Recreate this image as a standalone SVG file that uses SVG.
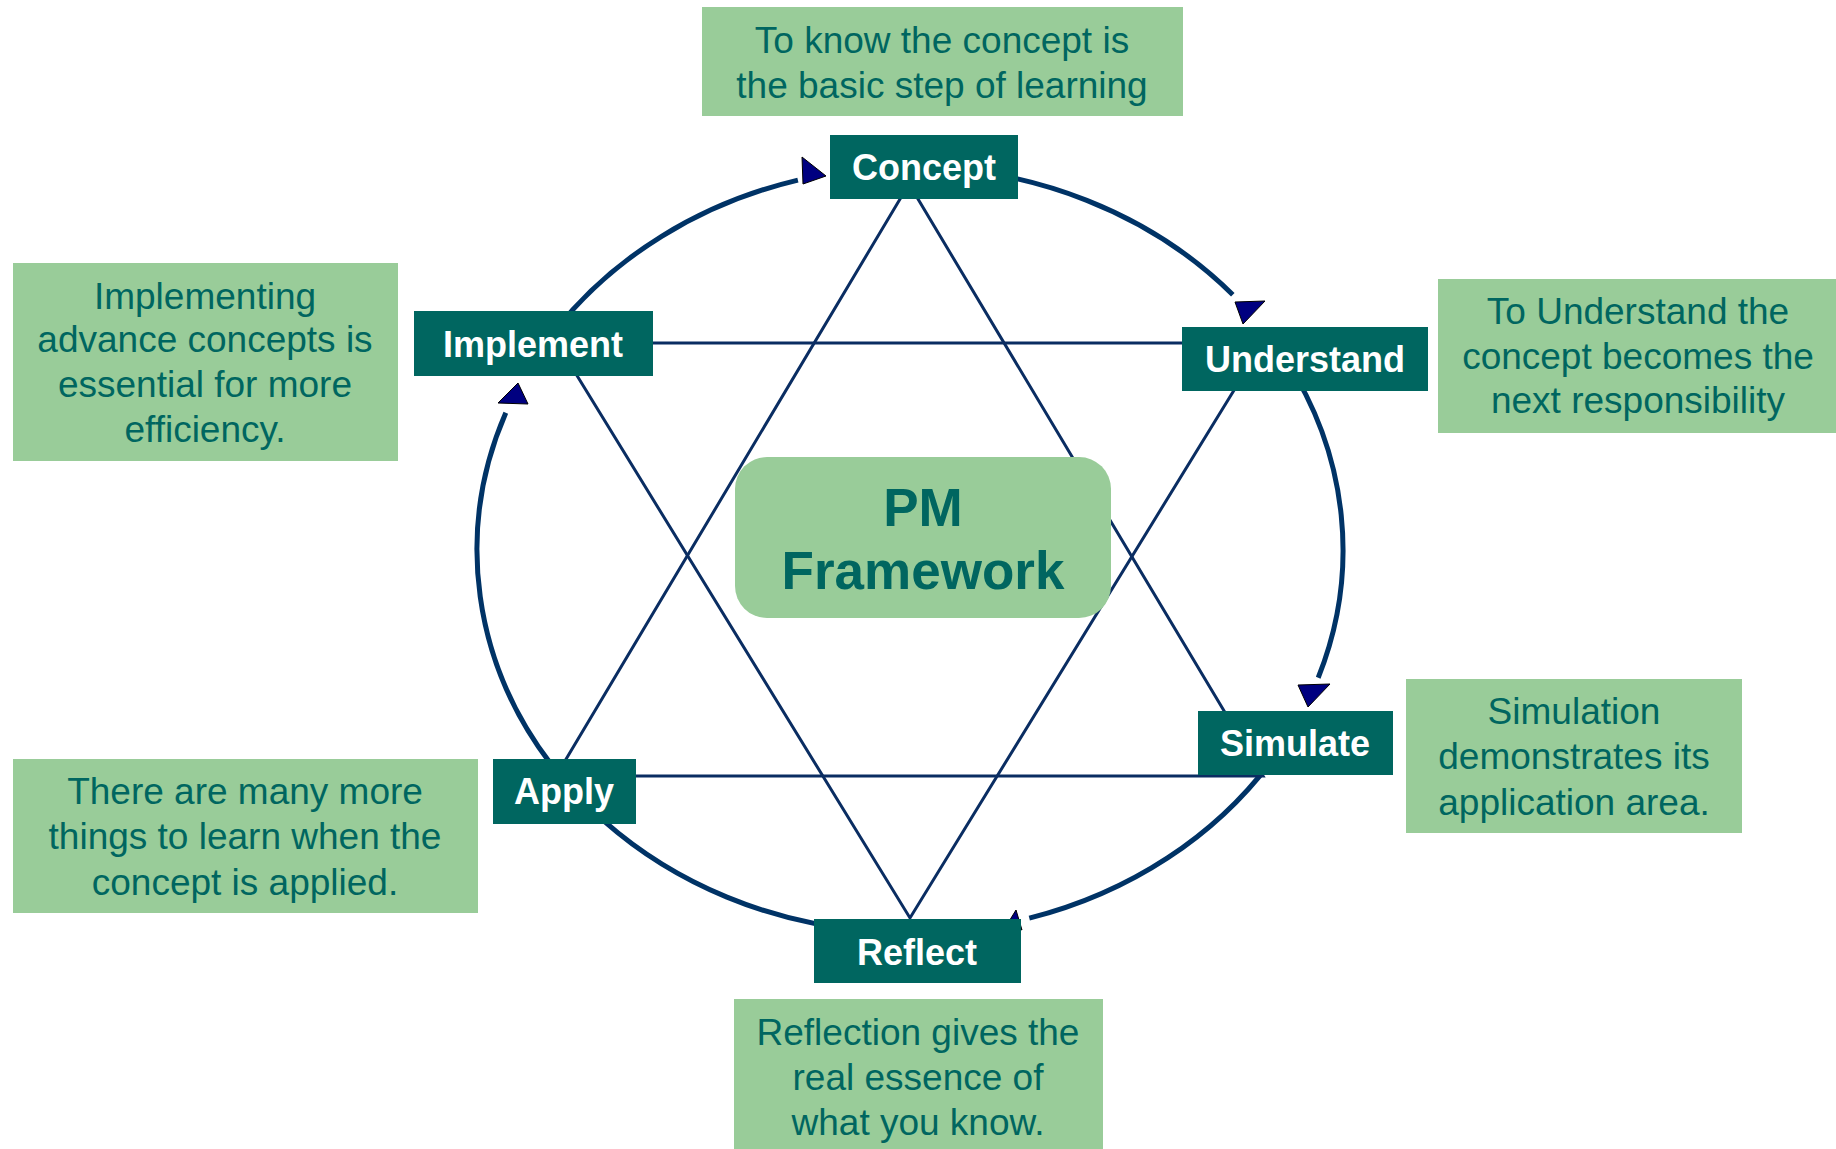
<svg xmlns="http://www.w3.org/2000/svg" width="1836" height="1149" viewBox="0 0 1836 1149">
<style>
.arc{fill:none;stroke:#003366;stroke-width:5}
.star{fill:none;stroke:#0a2d62;stroke-width:3}
.arrow{fill:#000080;stroke:#000;stroke-width:1}
.node{fill:#006660}
.lbl{font-family:"Liberation Sans",Arial,sans-serif;font-weight:bold;font-size:36px;fill:#fff;text-anchor:middle}
.note{fill:#99cc99}
.ntxt{font-family:"Liberation Sans",Arial,sans-serif;font-size:37px;fill:#006660;text-anchor:middle}
.ctr{font-family:"Liberation Sans",Arial,sans-serif;font-weight:bold;font-size:53px;fill:#006660;text-anchor:middle}
</style>
<rect width="1836" height="1149" fill="#fff"/>
<g id="connectors">
<path class="arc" d="M910,167 A433,383 0 0 1 1232.8,294.7"/>
<path class="arc" d="M1285,358.5 A433,383 0 0 1 1318.2,677.8"/>
<path class="arc" d="M1273.2,758.6 A433,383 0 0 1 1029.3,918.2"/>
<path class="arc" d="M872.2,931.5 A433,383 0 0 1 603.8,820.8"/>
<path class="arc" d="M555.3,769.7 A433,383 0 0 1 505.8,412.7"/>
<path class="arc" d="M555.3,330.3 A433,383 0 0 1 797.9,180.1"/>
<polygon class="arrow" points="802,157 803,184 826,176"/>
<polygon class="arrow" points="1235,302 1265,301 1243,324"/>
<polygon class="arrow" points="1298,685 1330,684 1308,707"/>
<polygon class="arrow" points="1008,923 1022,930 1016,910"/>
<polygon class="arrow" points="518,383 498,403 528,404"/>
<polygon class="star" points="909,184 556,776 1263,776"/>
<polygon class="star" points="557,343 1263,343 910,918"/>
</g>
<g id="center">
<rect x="735" y="457" width="376" height="161" rx="32" fill="#99cc99"/>
<text class="ctr" x="923" y="526">PM</text>
<text class="ctr" x="923" y="589">Framework</text>
</g>
<g id="concept">
<rect class="node" x="830" y="135" width="188" height="64"/>
<text class="lbl" x="924" y="180">Concept</text>
</g>
<g id="understand">
<rect class="node" x="1182" y="327" width="246" height="64"/>
<text class="lbl" x="1305" y="372">Understand</text>
</g>
<g id="simulate">
<rect class="node" x="1198" y="711" width="195" height="64"/>
<text class="lbl" x="1295" y="756">Simulate</text>
</g>
<g id="reflect">
<rect class="node" x="814" y="919" width="207" height="64"/>
<text class="lbl" x="917" y="965">Reflect</text>
</g>
<g id="apply">
<rect class="node" x="493" y="759" width="143" height="65"/>
<text class="lbl" x="564" y="804">Apply</text>
</g>
<g id="implement">
<rect class="node" x="414" y="311" width="239" height="65"/>
<text class="lbl" x="533" y="357">Implement</text>
</g>
<g id="note-concept">
<rect class="note" x="702" y="7" width="481" height="109"/>
<text class="ntxt" x="942" y="53">To know the concept is</text>
<text class="ntxt" x="942" y="98">the basic step of learning</text>
</g>
<g id="note-understand">
<rect class="note" x="1438" y="279" width="398" height="154"/>
<text class="ntxt" x="1638" y="324">To Understand the</text>
<text class="ntxt" x="1638" y="369">concept becomes the</text>
<text class="ntxt" x="1638" y="413">next responsibility</text>
</g>
<g id="note-simulate">
<rect class="note" x="1406" y="679" width="336" height="154"/>
<text class="ntxt" x="1574" y="724">Simulation</text>
<text class="ntxt" x="1574" y="769">demonstrates its</text>
<text class="ntxt" x="1574" y="815">application area.</text>
</g>
<g id="note-reflect">
<rect class="note" x="734" y="999" width="369" height="150"/>
<text class="ntxt" x="918" y="1045">Reflection gives the</text>
<text class="ntxt" x="918" y="1090">real essence of</text>
<text class="ntxt" x="918" y="1135">what you know.</text>
</g>
<g id="note-apply">
<rect class="note" x="13" y="759" width="465" height="154"/>
<text class="ntxt" x="245" y="804">There are many more</text>
<text class="ntxt" x="245" y="849">things to learn when the</text>
<text class="ntxt" x="245" y="895">concept is applied.</text>
</g>
<g id="note-implement">
<rect class="note" x="13" y="263" width="385" height="198"/>
<text class="ntxt" x="205" y="309">Implementing</text>
<text class="ntxt" x="205" y="352">advance concepts is</text>
<text class="ntxt" x="205" y="397">essential for more</text>
<text class="ntxt" x="205" y="442">efficiency.</text>
</g>
</svg>
